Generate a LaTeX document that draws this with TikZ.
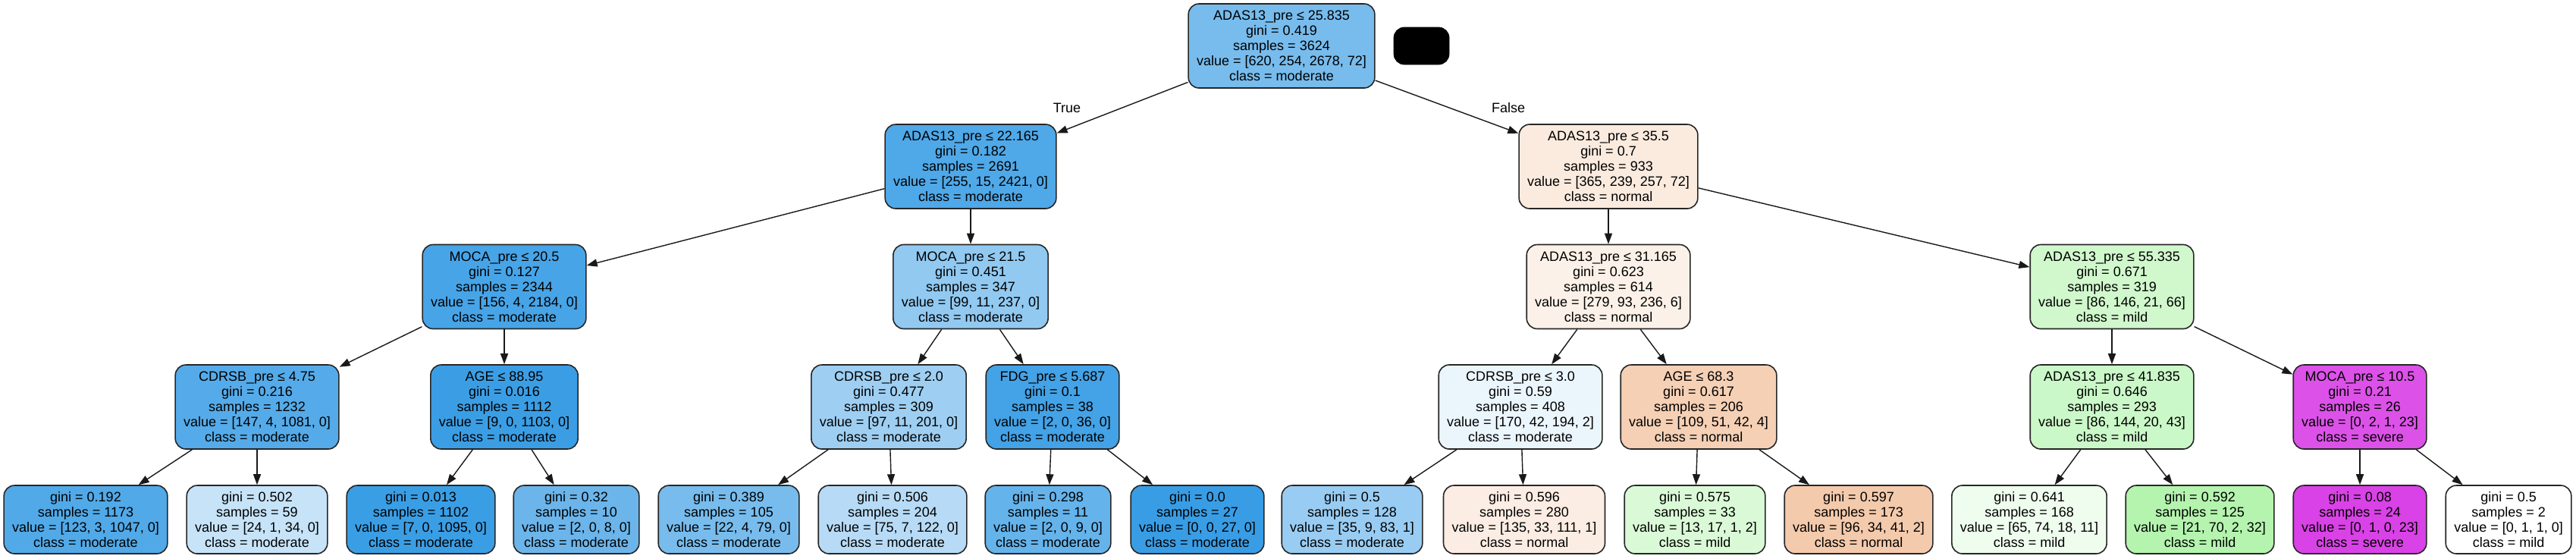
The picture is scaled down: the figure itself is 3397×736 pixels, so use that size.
\documentclass[tikz,border=0pt]{standalone}
\usepackage{fontspec}
\setmainfont{Liberation Sans}
\usetikzlibrary{arrows.meta}
\definecolor{cnorm}{HTML}{E58139}
\definecolor{cmild}{HTML}{47E539}
\definecolor{cmod}{HTML}{399DE5}
\definecolor{csev}{HTML}{D739E5}
\tikzset{
  tn/.style={draw=black!85, line width=0.8pt, rounded corners=7pt, align=center,
    font=\fontsize{9pt}{10pt}\selectfont, inner xsep=5.5pt, inner ysep=0pt},
  inner/.style={tn, minimum height=55.5pt},
  leaf/.style={tn, minimum height=45pt},
  edge/.style={line width=0.7pt, draw=black!90, -{Triangle[length=7pt,width=5pt]}},
  elab/.style={font=\fontsize{9pt}{10pt}\selectfont, inner sep=0pt}
}
\begin{document}
\begin{tikzpicture}[x=0.5pt, y=-0.5pt]
\useasboundingbox (0,0) rectangle (3397,736);
% level 0
\node[inner, fill=cmod!68.5!white] (root) at (1690,60.5) {ADAS13\_pre ≤ 25.835\\gini = 0.419\\samples = 3624\\value = [620, 254, 2678, 72]\\class = moderate};
\node[draw=black, fill=black, rounded corners=7pt, minimum width=36.5pt, minimum height=24.5pt, inner sep=0pt] (blk) at (1874.5,60.5) {};
% level 1
\node[inner, fill=cmod!88.9!white] (n1) at (1280,219.5) {ADAS13\_pre ≤ 22.165\\gini = 0.182\\samples = 2691\\value = [255, 15, 2421, 0]\\class = moderate};
\node[inner, fill=cnorm!16!white] (n2) at (2121,219.5) {ADAS13\_pre ≤ 35.5\\gini = 0.7\\samples = 933\\value = [365, 239, 257, 72]\\class = normal};
% level 2
\node[inner, fill=cmod!92.7!white] (n3) at (665,378) {MOCA\_pre ≤ 20.5\\gini = 0.127\\samples = 2344\\value = [156, 4, 2184, 0]\\class = moderate};
\node[inner, fill=cmod!55.6!white] (n4) at (1280,378) {MOCA\_pre ≤ 21.5\\gini = 0.451\\samples = 347\\value = [99, 11, 237, 0]\\class = moderate};
\node[inner, fill=cnorm!11.4!white] (n5) at (2121,378) {ADAS13\_pre ≤ 31.165\\gini = 0.623\\samples = 614\\value = [279, 93, 236, 6]\\class = normal};
\node[inner, fill=cmild!25.8!white] (n6) at (2785,378) {ADAS13\_pre ≤ 55.335\\gini = 0.671\\samples = 319\\value = [86, 146, 21, 66]\\class = mild};
% level 3
\node[inner, fill=cmod!86.1!white] (n7) at (339,536.5) {CDRSB\_pre ≤ 4.75\\gini = 0.216\\samples = 1232\\value = [147, 4, 1081, 0]\\class = moderate};
\node[inner, fill=cmod!99.2!white] (n8) at (665,536.5) {AGE ≤ 88.95\\gini = 0.016\\samples = 1112\\value = [9, 0, 1103, 0]\\class = moderate};
\node[inner, fill=cmod!49.1!white] (n9) at (1172,536.5) {CDRSB\_pre ≤ 2.0\\gini = 0.477\\samples = 309\\value = [97, 11, 201, 0]\\class = moderate};
\node[inner, fill=cmod!94.4!white] (n10) at (1388,536.5) {FDG\_pre ≤ 5.687\\gini = 0.1\\samples = 38\\value = [2, 0, 36, 0]\\class = moderate};
\node[inner, fill=cmod!10.1!white] (n11) at (2005,536.5) {CDRSB\_pre ≤ 3.0\\gini = 0.59\\samples = 408\\value = [170, 42, 194, 2]\\class = moderate};
\node[inner, fill=cnorm!37.4!white] (n12) at (2240,536.5) {AGE ≤ 68.3\\gini = 0.617\\samples = 206\\value = [109, 51, 42, 4]\\class = normal};
\node[inner, fill=cmild!28!white] (n13) at (2785,536.5) {ADAS13\_pre ≤ 41.835\\gini = 0.646\\samples = 293\\value = [86, 144, 20, 43]\\class = mild};
\node[inner, fill=csev!87.5!white] (n14) at (3112,536.5) {MOCA\_pre ≤ 10.5\\gini = 0.21\\samples = 26\\value = [0, 2, 1, 23]\\class = severe};
% leaves
\node[leaf, fill=cmod!88!white] (l1) at (113,685) {gini = 0.192\\samples = 1173\\value = [123, 3, 1047, 0]\\class = moderate};
\node[leaf, fill=cmod!28.6!white] (l2) at (339,685) {gini = 0.502\\samples = 59\\value = [24, 1, 34, 0]\\class = moderate};
\node[leaf, fill=cmod!99.4!white] (l3) at (555,685) {gini = 0.013\\samples = 1102\\value = [7, 0, 1095, 0]\\class = moderate};
\node[leaf, fill=cmod!75!white] (l4) at (760,685) {gini = 0.32\\samples = 10\\value = [2, 0, 8, 0]\\class = moderate};
\node[leaf, fill=cmod!68.7!white] (l5) at (961,685) {gini = 0.389\\samples = 105\\value = [22, 4, 79, 0]\\class = moderate};
\node[leaf, fill=cmod!36.4!white] (l6) at (1177,685) {gini = 0.506\\samples = 204\\value = [75, 7, 122, 0]\\class = moderate};
\node[leaf, fill=cmod!77.8!white] (l7) at (1382,685) {gini = 0.298\\samples = 11\\value = [2, 0, 9, 0]\\class = moderate};
\node[leaf, fill=cmod] (l8) at (1579,685) {gini = 0.0\\samples = 27\\value = [0, 0, 27, 0]\\class = moderate};
\node[leaf, fill=cmod!51.6!white] (l9) at (1783,685) {gini = 0.5\\samples = 128\\value = [35, 9, 83, 1]\\class = moderate};
\node[leaf, fill=cnorm!14.2!white] (l10) at (2010,685) {gini = 0.596\\samples = 280\\value = [135, 33, 111, 1]\\class = normal};
\node[leaf, fill=cmild!20!white] (l11) at (2235,685) {gini = 0.575\\samples = 33\\value = [13, 17, 1, 2]\\class = mild};
\node[leaf, fill=cnorm!41.7!white] (l12) at (2451,685) {gini = 0.597\\samples = 173\\value = [96, 34, 41, 2]\\class = normal};
\node[leaf, fill=cmild!8.7!white] (l13) at (2676,685) {gini = 0.641\\samples = 168\\value = [65, 74, 18, 11]\\class = mild};
\node[leaf, fill=cmild!40.9!white] (l14) at (2901,685) {gini = 0.592\\samples = 125\\value = [21, 70, 2, 32]\\class = mild};
\node[leaf, fill=csev!95.7!white] (l15) at (3112,685) {gini = 0.08\\samples = 24\\value = [0, 1, 0, 23]\\class = severe};
\node[leaf, fill=white] (l16) at (3308,685) {gini = 0.5\\samples = 2\\value = [0, 1, 1, 0]\\class = mild};
% edges
\draw[edge] (root) -- (n1);
\draw[edge] (root) -- (n2);
\draw[edge] (n1) -- (n3);
\draw[edge] (n1) -- (n4);
\draw[edge] (n2) -- (n5);
\draw[edge] (n2) -- (n6);
\draw[edge] (n3) -- (n7);
\draw[edge] (n3) -- (n8);
\draw[edge] (n4) -- (n9);
\draw[edge] (n4) -- (n10);
\draw[edge] (n5) -- (n11);
\draw[edge] (n5) -- (n12);
\draw[edge] (n6) -- (n13);
\draw[edge] (n6) -- (n14);
\draw[edge] (n7) -- (l1);
\draw[edge] (n7) -- (l2);
\draw[edge] (n8) -- (l3);
\draw[edge] (n8) -- (l4);
\draw[edge] (n9) -- (l5);
\draw[edge] (n9) -- (l6);
\draw[edge] (n10) -- (l7);
\draw[edge] (n10) -- (l8);
\draw[edge] (n11) -- (l9);
\draw[edge] (n11) -- (l10);
\draw[edge] (n12) -- (l11);
\draw[edge] (n12) -- (l12);
\draw[edge] (n13) -- (l13);
\draw[edge] (n13) -- (l14);
\draw[edge] (n14) -- (l15);
\draw[edge] (n14) -- (l16);
% edge labels
\node[elab] (lt) at (1407,142) {True};
\node[elab] (lf) at (1989,142) {False};
\end{tikzpicture}
\end{document}
